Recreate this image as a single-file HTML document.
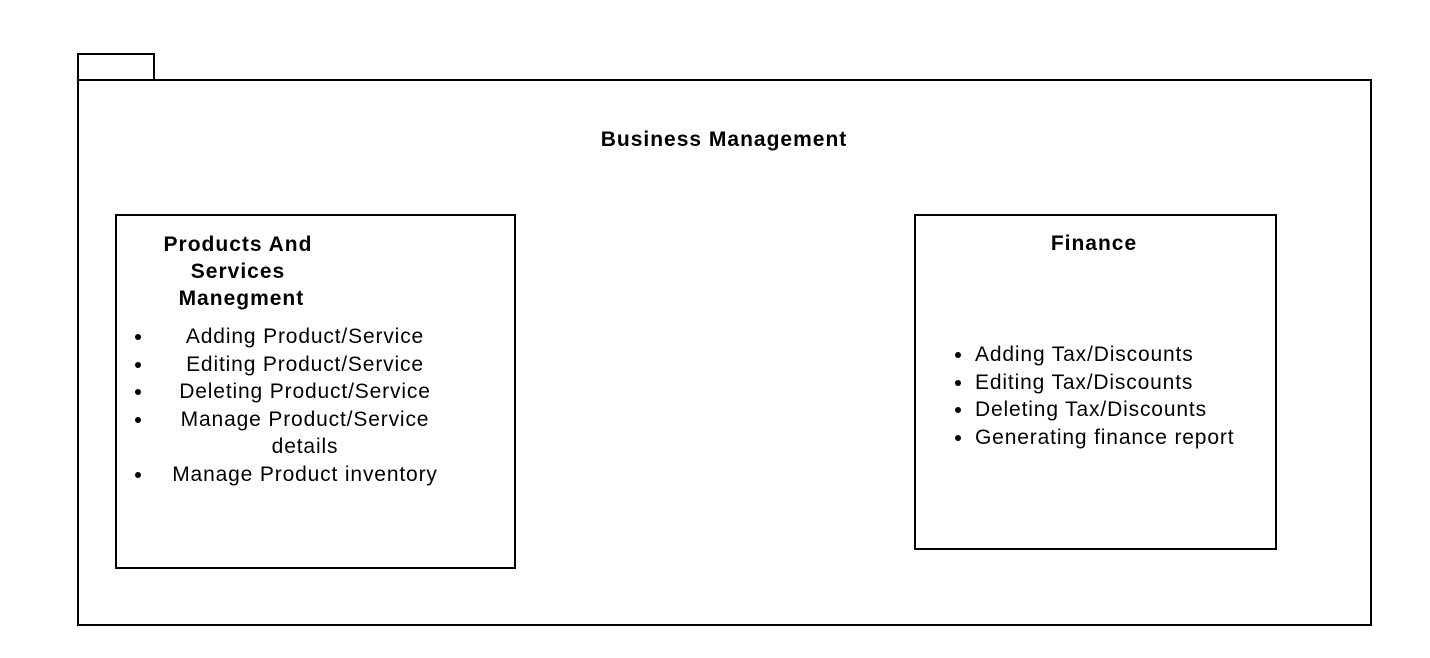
<!DOCTYPE html>
<html><head><meta charset="utf-8"><style>
body{margin:0;width:1430px;height:658px;background:#fff;position:relative;font-family:"Liberation Sans",Arial,sans-serif;color:#000;overflow:hidden}
.b{position:absolute;border:2px solid #000;box-sizing:border-box}
.t{position:absolute;font-size:21px;line-height:27.5px;white-space:nowrap;letter-spacing:0.85px}
.bold{font-weight:bold;letter-spacing:1px}
.dot{position:absolute;width:6px;height:6px;border-radius:50%;background:#000}
</style></head><body>
<div class="b" style="left:77px;top:53px;width:78px;height:28px"></div>
<div class="b" style="left:77px;top:79px;width:1295px;height:547px"></div>
<div class="t bold" style="left:0;width:1448px;text-align:center;top:126px">Business Management</div>
<div class="b" style="left:115px;top:214px;width:401px;height:355px"></div>
<div class="t bold" style="left:158px;width:160px;text-align:center;top:231px;line-height:27px">Products And<br>Services<br>&nbsp;Manegment</div>
<div class="t" style="left:155px;width:300px;text-align:center;top:323px">Adding Product/Service<br>Editing Product/Service<br>Deleting Product/Service<br>Manage Product/Service<br>details<br>Manage Product inventory</div>
<div class="dot" style="left:135px;top:334px"></div>
<div class="dot" style="left:135px;top:362px"></div>
<div class="dot" style="left:135px;top:389px"></div>
<div class="dot" style="left:135px;top:417px"></div>
<div class="dot" style="left:135px;top:472px"></div>
<div class="b" style="left:914px;top:214px;width:363px;height:336px"></div>
<div class="t bold" style="left:914px;width:360px;text-align:center;top:230px">Finance</div>
<div class="t" style="left:975px;top:341px">Adding Tax/Discounts<br>Editing Tax/Discounts<br>Deleting Tax/Discounts<br>Generating finance report</div>
<div class="dot" style="left:955px;top:352px"></div>
<div class="dot" style="left:955px;top:380px"></div>
<div class="dot" style="left:955px;top:407px"></div>
<div class="dot" style="left:955px;top:435px"></div>
</body></html>
